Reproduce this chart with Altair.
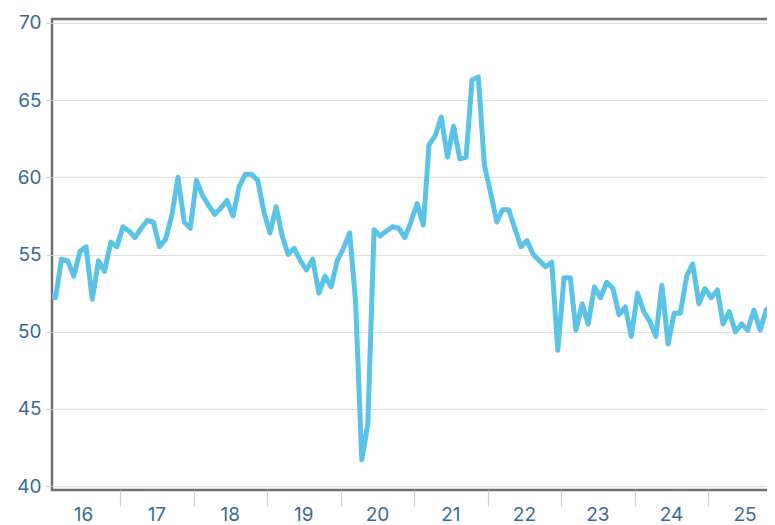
import altair as alt
import pandas as pd

# Monthly index values, Jan 2016 .. Dec 2025
v2016 = [52.4, 52.2, 54.7, 54.6, 53.6, 55.2, 55.5, 52.1, 54.6, 53.9, 55.8, 55.5]
v2017 = [56.8, 56.5, 56.1, 56.7, 57.2, 57.1, 55.5, 56.0, 57.6, 60.0, 57.1, 56.7]
v2018 = [59.8, 58.8, 58.2, 57.6, 58.0, 58.5, 57.5, 59.4, 60.2, 60.2, 59.8, 57.8]
v2019 = [56.4, 58.1, 56.3, 55.0, 55.4, 54.6, 54.0, 54.7, 52.5, 53.6, 52.9, 54.6]
v2020 = [55.4, 56.4, 52.0, 41.7, 44.0, 56.6, 56.2, 56.5, 56.8, 56.7, 56.1, 57.1]
v2021 = [58.3, 56.9, 62.1, 62.7, 63.9, 61.3, 63.3, 61.2, 61.3, 66.3, 66.5, 60.8]
v2022 = [59.0, 57.1, 57.9, 57.9, 56.7, 55.5, 55.9, 55.0, 54.6, 54.2, 54.5, 48.8]
v2023 = [53.5, 53.5, 50.1, 51.8, 50.5, 52.9, 52.2, 53.2, 52.8, 51.1, 51.6, 49.7]
v2024 = [52.5, 51.3, 50.7, 49.7, 53.0, 49.2, 51.2, 51.2, 53.6, 54.4, 51.8, 52.8]
v2025 = [52.2, 52.7, 50.5, 51.3, 50.0, 50.5, 50.1, 51.4, 50.1, 51.4, 51.8, 53.4]

year_labels = ["16", "17", "18", "19", "20", "21", "22", "23", "24", "25"]
y_ticks = [40, 45, 50, 55, 60, 65, 70]

values = v2016 + v2017 + v2018 + v2019 + v2020 + v2021 + v2022 + v2023 + v2024 + v2025
dates = pd.date_range("2016-01-01", periods=len(values), freq="MS") + pd.Timedelta(days=14)
df = pd.DataFrame({"date": dates.strftime("%Y-%m-%d"), "value": values})

lab = pd.DataFrame({
    "date": [f"20{y}-07-02" for y in year_labels],
    "label": year_labels,
})

W, H = 723, 471
LABEL_COLOR = "#3a6a93"
FONT = "Inter"

xscale = alt.Scale(domain=[alt.DateTime(year=2016, month=1, date=28),
                           alt.DateTime(year=2025, month=11, date=28)])

line = alt.Chart(df).mark_line(
    color="#5BC4E6", strokeWidth=5, strokeJoin="round", strokeCap="round", clip=True
).encode(
    x=alt.X("date:T", scale=xscale,
            axis=alt.Axis(values=[alt.DateTime(year=y, month=1, date=1) for y in range(2017, 2026)],
                          labels=False, ticks=True, tickSize=16, tickColor="#cfcfcf",
                          tickWidth=1.2, domain=False, grid=False, title=None)),
    y=alt.Y("value:Q", scale=alt.Scale(domain=[39.75, 70.25], nice=False, zero=False),
            axis=alt.Axis(values=y_ticks, title=None, labelFontSize=19, labelFont=FONT,
                          labelColor=LABEL_COLOR, tickSize=6, tickColor="#cfcfcf",
                          labelPadding=5, domain=False, grid=True, gridColor="#e0e0e0",
                          gridWidth=1.2)),
)

text = alt.Chart(lab).mark_text(
    fontSize=19, font=FONT, color=LABEL_COLOR, baseline="middle", align="center"
).encode(
    x=alt.X("date:T"),
    y=alt.value(H + 25),
    text="label:N",
)

chart = alt.layer(line, text).properties(
    width=W, height=H,
    autosize=alt.AutoSizeParams(type="none"),
    padding={"left": 44, "top": 11, "right": -8, "bottom": 45},
).configure(background="white").configure_view(stroke="#6f6f6f", strokeWidth=2.5)

chart.save("out.html", embed_options={"renderer": "svg", "actions": False})
